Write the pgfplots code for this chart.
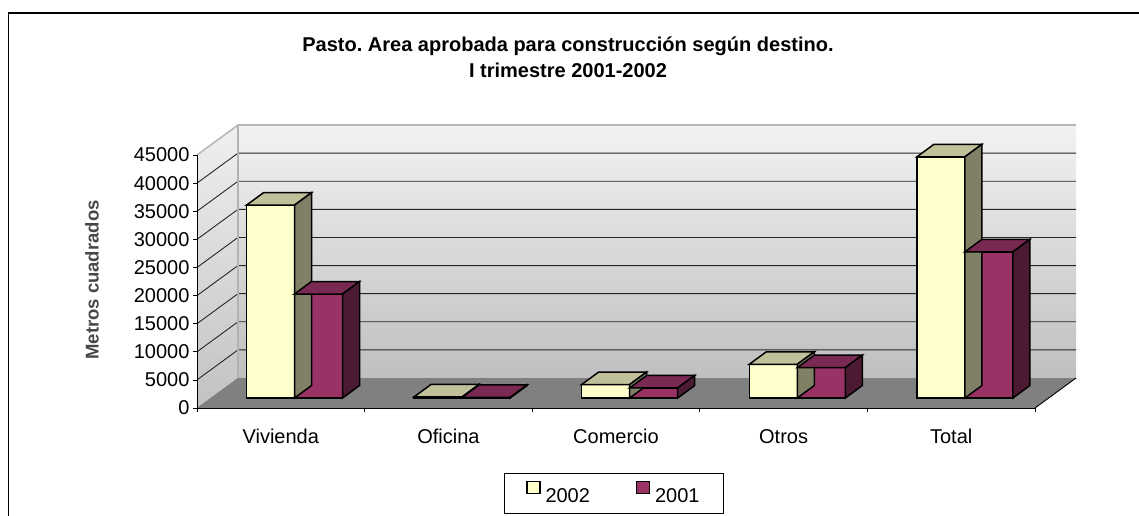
\documentclass[border=0pt]{standalone}
\usepackage{fontspec}
\setmainfont{Liberation Sans}
\usepackage{pgfplots}
\pgfplotsset{compat=1.18}
\usepackage{pgfplotstable}
\frenchspacing

\definecolor{yelF}{HTML}{FFFFCC}
\definecolor{yelT}{HTML}{C0C09A}
\definecolor{yelS}{HTML}{808066}
\definecolor{purF}{HTML}{993366}
\definecolor{purT}{HTML}{7A2952}
\definecolor{purS}{HTML}{4D1A33}

% 2002
\pgfplotstableread{
x v
0.5 34300
1.5 200
2.5 2400
3.5 6000
4.5 42900
}\dataA
% 2001
\pgfplotstableread{
x v
0.5 18500
1.5 100
2.5 1800
3.5 5400
4.5 26000
}\dataB

% top and side faces of a bar (origin = data point on the front plane)
\newcommand\cubefaces[3]{%
 \pgfscope
 \edef\hh{\fpeval{\pgfplotspointmeta/45000*253}}%
 \pgftransformshift{\pgfpoint{#1}{10pt}}%
 \pgfsetlinewidth{1.5pt}\pgfsetstrokecolor{black}\pgfsetmiterjoin
 \pgfsetfillcolor{#2}%
 \pgfpathmoveto{\pgfpoint{-24pt}{0pt}}%
 \pgfpathlineto{\pgfpoint{24pt}{0pt}}%
 \pgfpathlineto{\pgfpoint{41pt}{12.5pt}}%
 \pgfpathlineto{\pgfpoint{-7pt}{12.5pt}}%
 \pgfpathclose
 \pgfusepath{fill,stroke}%
 \pgfsetfillcolor{#3}%
 \pgfpathmoveto{\pgfpoint{24pt}{0pt}}%
 \pgfpathlineto{\pgfpoint{41pt}{12.5pt}}%
 \pgfpathlineto{\pgfpoint{41pt}{12.5pt-\hh pt}}%
 \pgfpathlineto{\pgfpoint{24pt}{-\hh pt}}%
 \pgfpathclose
 \pgfusepath{fill,stroke}%
 \endpgfscope}
\pgfdeclareplotmark{cubeA}{\cubefaces{-10.3pt}{yelT}{yelS}}
\pgfdeclareplotmark{cubeB}{\cubefaces{37.7pt}{purT}{purS}}

\tikzset{dep/.style={shift={(41pt,30pt)}}}

\begin{document}
\begin{tikzpicture}
\useasboundingbox (0,0) rectangle (1139pt,-515pt);
\draw[line width=1.6pt] (8.5pt,-520pt) -- (8.5pt,-13pt) -- (1145pt,-13pt);
\begin{axis}[
 at={(197pt,-408pt)}, anchor=south west,
 scale only axis, width=838pt, height=253pt,
 xmin=0, xmax=5, ymin=0, ymax=45000,
 clip=false, axis on top,
 axis x line*=bottom, axis y line*=left,
 axis line style={black, line width=1pt},
 xtick={0.5,1.5,2.5,3.5,4.5},
 xticklabels={Vivienda,Oficina,Comercio,Otros,Total},
 major x tick style={draw=none},
 minor xtick={0,1,2,3,4,5},
 minor x tick style={black, line width=0.8pt},
 ytick={0,5000,10000,15000,20000,25000,30000,35000,40000,45000},
 y tick style={black, line width=0.8pt},
 tick align=outside, major tick length=4pt, minor tick length=4pt,
 scaled y ticks=false,
 tick label style={font=\fontsize{20}{24}\selectfont},
 yticklabel style={/pgf/number format/1000 sep={}, /pgf/number format/assume math mode=true},
 xticklabel style={text height=14.5pt, text depth=4.2pt, yshift=-13pt},
 ylabel={Metros cuadrados},
 ylabel style={at={(axis description cs:-0.1253,0.506)}, anchor=center, font=\bfseries\fontsize{18.5}{20}\selectfont, color=black!72},
 title={Pasto. Area aprobada para construcción según destino.\\I trimestre 2001-2002},
 title style={at={(axis description cs:0.4427,1.364)}, anchor=center, align=center, font=\bfseries\fontsize{20}{26}\selectfont},
 legend style={at={(axis description cs:0.4976,-0.338)}, anchor=center, draw=black, line width=0.8pt,
   font=\fontsize{20}{24}\selectfont, legend columns=2, inner xsep=22pt, inner ysep=7pt,
   /tikz/every even column/.append style={column sep=44pt}},
]
% walls and floor
\fill[top color=gray!10, bottom color=gray!50] ([dep]axis cs:0,0) rectangle ([dep]axis cs:5,45000);
\fill[top color=gray!12, bottom color=gray!48] (axis cs:0,0) -- ([dep]axis cs:0,0) -- ([dep]axis cs:0,45000) -- (axis cs:0,45000) -- cycle;
\fill[gray] (axis cs:0,0) -- (axis cs:5,0) -- ([dep]axis cs:5,0) -- ([dep]axis cs:0,0) -- cycle;
\pgfplotsinvokeforeach{5000,10000,15000,20000,25000,30000,35000,40000}{
  \draw[black!85, line width=0.9pt] (axis cs:0,#1) -- ([dep]axis cs:0,#1) -- ([dep]axis cs:5,#1);
}
\draw[gray!55, line width=1.6pt] (axis cs:0,45000) -- ([dep]axis cs:0,45000) -- ([dep]axis cs:5,45000);
\draw[gray!60, line width=1.6pt] ([dep]axis cs:0,45000) -- ([dep]axis cs:0,0);
\draw[black, line width=0.9pt] (axis cs:5,0) -- ([dep]axis cs:5,0);

% 2002
\addplot[ybar, bar width=48pt, bar shift=-10.3pt, yshift=10pt, fill=yelF, draw=black, line width=1.5pt, forget plot]
  table[x=x, y=v]{\dataA};
\addplot[scatter, only marks, mark=cubeA, forget plot, point meta=explicit symbolic,
  scatter/@pre marker code/.code={}, scatter/@post marker code/.code={}]
  table[x=x, y=v, meta=v]{\dataA};
% 2001
\addplot[ybar, bar width=48pt, bar shift=37.7pt, yshift=10pt, fill=purF, draw=black, line width=1.5pt, forget plot]
  table[x=x, y=v]{\dataB};
\addplot[scatter, only marks, mark=cubeB, forget plot, point meta=explicit symbolic,
  scatter/@pre marker code/.code={}, scatter/@post marker code/.code={}]
  table[x=x, y=v, meta=v]{\dataB};

\addlegendimage{legend image code/.code={\draw[line width=1.3pt, fill=yelF] (0pt,3pt) rectangle (13pt,15pt); \path (16pt,3pt);}}
\addlegendentry{2002}
\addlegendimage{legend image code/.code={\draw[line width=1.3pt, fill=purF] (0pt,3pt) rectangle (13pt,15pt); \path (16pt,3pt);}}
\addlegendentry{2001}
\end{axis}
\end{tikzpicture}
\end{document}
